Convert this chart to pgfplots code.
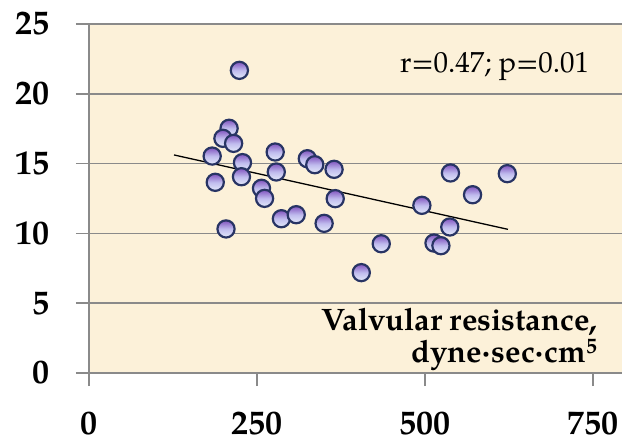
\documentclass[border=0pt]{standalone}
\usepackage{fontspec}
\setmainfont{TeX Gyre Pagella}
\usepackage{pgfplots}
\pgfplotsset{compat=1.18}
\definecolor{bgcol}{RGB}{252,241,217}
\definecolor{gridgray}{RGB}{138,138,138}
\definecolor{ballline}{RGB}{40,52,100}
\definecolor{balltop}{RGB}{128,82,190}
\definecolor{ballmid}{RGB}{192,188,238}
\definecolor{ballbot}{RGB}{228,234,250}
\pgfdeclareverticalshading{ballshade}{100bp}{color(0bp)=(ballbot); color(25bp)=(ballbot); color(50bp)=(ballmid); color(75bp)=(balltop); color(100bp)=(balltop)}
\pgfdeclareplotmark{ball}{%
  \pgfpathcircle{\pgfpointorigin}{\pgfplotmarksize}%
  \pgfshadepath{ballshade}{0}%
  \pgfpathcircle{\pgfpointorigin}{\pgfplotmarksize}%
  \pgfusepathqstroke
}
\pgfplotstableread{
x y
223.8 21.68
208.5 17.53
199.3 16.81
215.2 16.45
183.3 15.54
228.4 15.07
226.9 14.06
187.9 13.66
203.9 10.32
277.1 15.83
278.7 14.40
256.7 13.23
261.3 12.51
286.3 11.05
308.4 11.34
324.9 15.35
336.0 14.92
364.7 14.59
366.4 12.49
349.9 10.72
434.9 9.26
405.2 7.19
495.4 12.01
537.9 14.33
570.8 12.77
622.5 14.28
536.9 10.46
513.4 9.31
523.7 9.12
}\pts
\begin{document}
\begin{tikzpicture}
\path[use as bounding box] (0,0) rectangle (622pt,442pt);
\begin{axis}[
  at={(89pt,69pt)}, anchor=south west,
  scale only axis, width=533pt, height=349pt,
  xmin=0, xmax=793.2, ymin=0, ymax=25,
  xtick={0,250,500,750}, ytick={0,5,...,25},
  axis lines*=left,
  axis line style={-, draw=gridgray, line width=1.5pt},
  axis background/.style={fill=bgcol},
  ymajorgrids, grid style={draw=gridgray, line width=1.5pt},
  tick align=outside, major tick length=13pt,
  tick style={draw=gridgray, line width=1.5pt},
  tick label style={font=\fontsize{34}{36}\selectfont\bfseries},
  xticklabel={\bfseries\pgfmathprintnumber[assume math mode=true]{\tick}},
  yticklabel={\bfseries\pgfmathprintnumber[assume math mode=true]{\tick}},
  yticklabel style={anchor=east, inner sep=0pt, xshift=-26pt},
  xticklabel style={anchor=north, inner sep=0pt, yshift=-26pt},
  clip=false,
]
\addplot[only marks, mark=ball, mark size=8.6pt, mark options={draw=ballline, line width=2.2pt}] table[x=x, y=y] {\pts};
\addplot[black, line width=1.3pt] coordinates {(126.5,15.62) (623.5,10.29)};
\node[anchor=base west, inner sep=0pt, font=\fontsize{29}{31}\selectfont] at (axis cs:462.8,21.5) {r=0.47; p=0.01};
\node[anchor=base east, inner sep=0pt, font=\fontsize{31}{33}\selectfont\bfseries] at (axis cs:757,3.08) {Valvular resistance,};
\node[anchor=base east, inner sep=0pt, font=\fontsize{31}{33}\selectfont\bfseries] at (axis cs:757,0.72) {dyne·sec·cm\textsuperscript{5}};
\end{axis}
\end{tikzpicture}
\end{document}
